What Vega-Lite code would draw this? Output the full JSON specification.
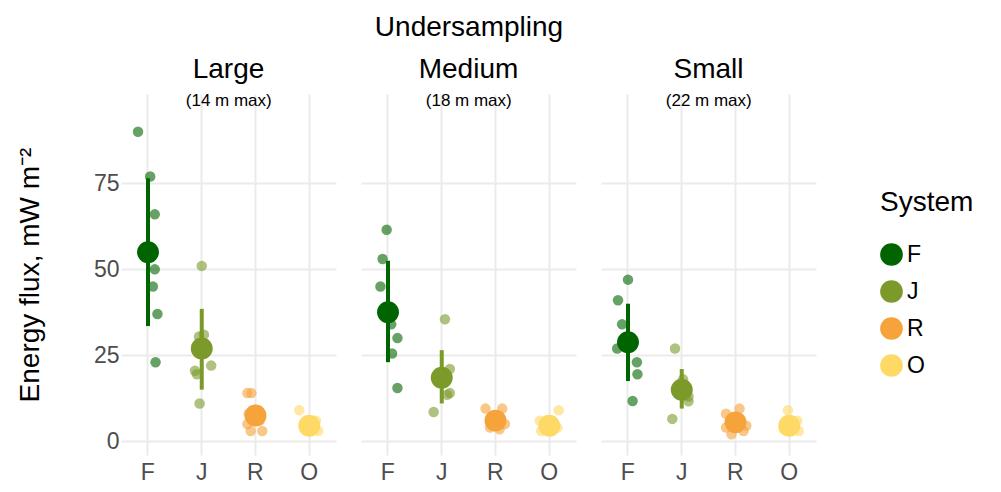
{
  "$schema": "https://vega.github.io/schema/vega-lite/v6.json",
  "background": "white",
  "padding": {"left": 16, "top": 14, "right": 5, "bottom": 5},
  "data": {"values": [
    {"s":"Large","sys":"F","v":90,"j":-0.37,"k":"pt"},{"s":"Large","sys":"F","v":77,"j":0.08,"k":"pt"},{"s":"Large","sys":"F","v":66,"j":0.25,"k":"pt"},{"s":"Large","sys":"F","v":50,"j":0.25,"k":"pt"},{"s":"Large","sys":"F","v":45,"j":0.18,"k":"pt"},{"s":"Large","sys":"F","v":37,"j":0.35,"k":"pt"},{"s":"Large","sys":"F","v":23,"j":0.28,"k":"pt"},
    {"s":"Large","sys":"J","v":51,"j":0,"k":"pt"},{"s":"Large","sys":"J","v":30.5,"j":-0.1,"k":"pt"},{"s":"Large","sys":"J","v":31,"j":0.08,"k":"pt"},{"s":"Large","sys":"J","v":20.5,"j":-0.25,"k":"pt"},{"s":"Large","sys":"J","v":19.5,"j":-0.18,"k":"pt"},{"s":"Large","sys":"J","v":22,"j":0.35,"k":"pt"},{"s":"Large","sys":"J","v":11,"j":-0.08,"k":"pt"},
    {"s":"Large","sys":"R","v":14,"j":-0.3,"k":"pt"},{"s":"Large","sys":"R","v":14,"j":-0.15,"k":"pt"},{"s":"Large","sys":"R","v":8,"j":-0.25,"k":"pt"},{"s":"Large","sys":"R","v":5,"j":-0.3,"k":"pt"},{"s":"Large","sys":"R","v":3,"j":-0.18,"k":"pt"},{"s":"Large","sys":"R","v":3,"j":0.25,"k":"pt"},{"s":"Large","sys":"R","v":6,"j":0.15,"k":"pt"},
    {"s":"Large","sys":"O","v":9,"j":-0.37,"k":"pt"},{"s":"Large","sys":"O","v":6,"j":0.25,"k":"pt"},{"s":"Large","sys":"O","v":3,"j":0.33,"k":"pt"},{"s":"Large","sys":"O","v":4,"j":0,"k":"pt"},{"s":"Large","sys":"O","v":5,"j":0.15,"k":"pt"},
    {"s":"Medium","sys":"F","v":61.5,"j":-0.05,"k":"pt"},{"s":"Medium","sys":"F","v":53,"j":-0.2,"k":"pt"},{"s":"Medium","sys":"F","v":45,"j":-0.28,"k":"pt"},{"s":"Medium","sys":"F","v":34,"j":0.12,"k":"pt"},{"s":"Medium","sys":"F","v":30,"j":0.35,"k":"pt"},{"s":"Medium","sys":"F","v":25.5,"j":0.15,"k":"pt"},{"s":"Medium","sys":"F","v":15.5,"j":0.35,"k":"pt"},
    {"s":"Medium","sys":"J","v":35.5,"j":0.12,"k":"pt"},{"s":"Medium","sys":"J","v":21,"j":0.3,"k":"pt"},{"s":"Medium","sys":"J","v":14,"j":0.3,"k":"pt"},{"s":"Medium","sys":"J","v":13.5,"j":0.2,"k":"pt"},{"s":"Medium","sys":"J","v":8.5,"j":-0.3,"k":"pt"},
    {"s":"Medium","sys":"R","v":9.5,"j":-0.37,"k":"pt"},{"s":"Medium","sys":"R","v":9.5,"j":0.25,"k":"pt"},{"s":"Medium","sys":"R","v":5,"j":0.35,"k":"pt"},{"s":"Medium","sys":"R","v":3.5,"j":0.15,"k":"pt"},{"s":"Medium","sys":"R","v":4,"j":-0.2,"k":"pt"},
    {"s":"Medium","sys":"O","v":9,"j":0.35,"k":"pt"},{"s":"Medium","sys":"O","v":6,"j":-0.35,"k":"pt"},{"s":"Medium","sys":"O","v":4,"j":0.3,"k":"pt"},{"s":"Medium","sys":"O","v":3,"j":-0.3,"k":"pt"},{"s":"Medium","sys":"O","v":3,"j":0.1,"k":"pt"},
    {"s":"Small","sys":"F","v":47,"j":0,"k":"pt"},{"s":"Small","sys":"F","v":41,"j":-0.37,"k":"pt"},{"s":"Small","sys":"F","v":34,"j":-0.22,"k":"pt"},{"s":"Small","sys":"F","v":27,"j":-0.4,"k":"pt"},{"s":"Small","sys":"F","v":23,"j":0.33,"k":"pt"},{"s":"Small","sys":"F","v":19.5,"j":0.35,"k":"pt"},{"s":"Small","sys":"F","v":11.7,"j":0.17,"k":"pt"},
    {"s":"Small","sys":"J","v":27,"j":-0.25,"k":"pt"},{"s":"Small","sys":"J","v":18,"j":0.05,"k":"pt"},{"s":"Small","sys":"J","v":13,"j":0.25,"k":"pt"},{"s":"Small","sys":"J","v":11.6,"j":0.25,"k":"pt"},{"s":"Small","sys":"J","v":6.5,"j":-0.35,"k":"pt"},
    {"s":"Small","sys":"R","v":8,"j":-0.35,"k":"pt"},{"s":"Small","sys":"R","v":9.5,"j":0.15,"k":"pt"},{"s":"Small","sys":"R","v":4.5,"j":0.4,"k":"pt"},{"s":"Small","sys":"R","v":3,"j":0.3,"k":"pt"},{"s":"Small","sys":"R","v":2,"j":-0.15,"k":"pt"},{"s":"Small","sys":"R","v":4,"j":-0.35,"k":"pt"},
    {"s":"Small","sys":"O","v":9,"j":-0.05,"k":"pt"},{"s":"Small","sys":"O","v":6,"j":0.3,"k":"pt"},{"s":"Small","sys":"O","v":3,"j":0.35,"k":"pt"},{"s":"Small","sys":"O","v":3.5,"j":-0.2,"k":"pt"},
    {"s":"Large","sys":"F","v":55,"lo":33.5,"hi":76.5,"j":0,"k":"mean"},{"s":"Large","sys":"J","v":27,"lo":15,"hi":38.5,"j":0,"k":"mean"},{"s":"Large","sys":"R","v":7.5,"lo":5.5,"hi":9.5,"j":0,"k":"mean"},{"s":"Large","sys":"O","v":4.5,"lo":3.5,"hi":5.5,"j":0,"k":"mean"},
    {"s":"Medium","sys":"F","v":37.5,"lo":23,"hi":52.5,"j":0,"k":"mean"},{"s":"Medium","sys":"J","v":18.5,"lo":11,"hi":26.5,"j":0,"k":"mean"},{"s":"Medium","sys":"R","v":6,"lo":4.5,"hi":7.5,"j":0,"k":"mean"},{"s":"Medium","sys":"O","v":4.5,"lo":3.5,"hi":5.5,"j":0,"k":"mean"},
    {"s":"Small","sys":"F","v":28.8,"lo":17.5,"hi":40,"j":0,"k":"mean"},{"s":"Small","sys":"J","v":15,"lo":9.5,"hi":21,"j":0,"k":"mean"},{"s":"Small","sys":"R","v":5.5,"lo":4,"hi":7,"j":0,"k":"mean"},{"s":"Small","sys":"O","v":4.5,"lo":3.5,"hi":5.5,"j":0,"k":"mean"},
    {"s":"Large","sys":"J","v":99,"j":1,"k":"sub","t":"(14 m max)"},{"s":"Medium","sys":"J","v":99,"j":1,"k":"sub","t":"(18 m max)"},{"s":"Small","sys":"J","v":99,"j":1,"k":"sub","t":"(22 m max)"}
  ]},
  "facet": {"column": {"field": "s", "type": "nominal", "sort": ["Large","Medium","Small"], "title": "Undersampling",
    "header": {"titleFontSize": 28, "titleFont": "Liberation Sans", "titleFontWeight": "normal", "titleColor": "black", "labelFontSize": 28, "labelFont": "Liberation Sans", "labelColor": "black", "labelPadding": 7, "titlePadding": 4}}},
  "spacing": 25,
  "spec": {
    "width": 215,
    "height": 361,
    "encoding": {
      "x": {"field": "sys", "type": "nominal", "sort": ["F","J","R","O"], "scale": {"paddingInner": 0, "paddingOuter": 0}, "title": null,
        "axis": {"labelAngle": 0, "labelFontSize": 23, "labelColor": "#4d4d4d", "ticks": false, "domain": false, "labelPadding": 6, "grid": true}},
      "xOffset": {"field": "j", "type": "quantitative", "scale": {"domain": [-1, 1], "range": [0, 54]}},
      "y": {"field": "v", "type": "quantitative", "scale": {"domain": [-4, 101], "nice": false, "zero": false}, "title": "Energy flux, mW m⁻²",
        "axis": {"values": [0, 25, 50, 75], "labelFontSize": 23, "labelColor": "#4d4d4d", "ticks": false, "domain": false, "titleFontSize": 28, "titleFontWeight": "normal", "titleColor": "black", "titlePadding": 49}},
      "color": {"field": "sys", "type": "nominal", "sort": ["F","J","R","O"], "title": "System",
        "scale": {"domain": ["F","J","R","O"], "range": ["#006400","#7B9A2A","#F5A33A","#FFD966"]}}
    },
    "layer": [
      {"transform": [{"filter": "datum.k == 'pt'"}], "mark": {"type": "circle", "size": 110, "opacity": 0.6}},
      {"transform": [{"filter": "datum.k == 'mean'"}], "mark": {"type": "rule", "strokeWidth": 4}, "encoding": {"y": {"field": "lo", "type": "quantitative"}, "y2": {"field": "hi"}}},
      {"transform": [{"filter": "datum.k == 'mean'"}], "mark": {"type": "circle", "size": 480, "opacity": 1}},
      {"transform": [{"filter": "datum.k == 'sub'"}], "mark": {"type": "text", "fontSize": 17, "font": "Liberation Sans", "color": "black", "baseline": "middle"}, "encoding": {"text": {"field": "t"}, "color": {"value": "black"}}}
    ]
  },
  "config": {
    "font": "Liberation Sans",
    "view": {"stroke": null},
    "axis": {"gridColor": "#ebebeb", "gridWidth": 2},
    "legend": {"orient": "none", "legendX": 759, "legendY": 95, "titleFontSize": 28, "titleFontWeight": "normal", "titleColor": "black", "labelFontSize": 23, "labelColor": "black", "symbolType": "circle", "symbolSize": 450, "symbolOpacity": 1, "rowPadding": 8, "titlePadding": 26}
  }
}
